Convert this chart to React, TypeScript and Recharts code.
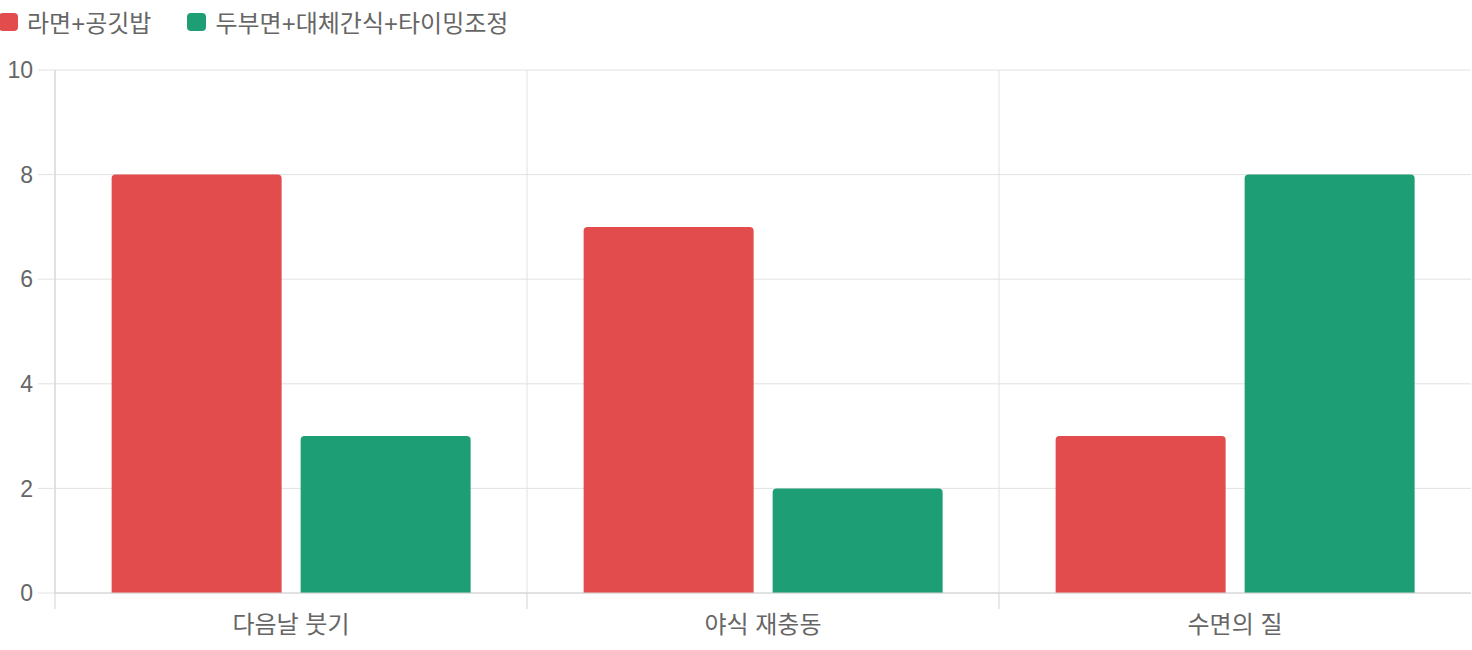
import React from 'react'
import {
  Bar,
  BarChart,
  CartesianGrid,
  Legend,
  XAxis,
  YAxis,
} from 'recharts'

const categories = ['다음날 붓기', '야식 재충동', '수면의 질']
const ramenRice = [8, 7, 3]
const tofuSnack = [3, 2, 8]
const yTicks = [0, 2, 4, 6, 8, 10]

const seriesNames = ['라면+공깃밥', '두부면+대체간식+타이밍조정']
const RED = '#e34c4c'
const GREEN = '#1e9e75'

const data = categories.map((name, i) => ({
  name,
  a: ramenRice[i],
  b: tofuSnack[i],
}))

const font = '"Liberation Sans", Arial, "Noto Sans CJK KR", sans-serif'
const textColor = '#666'
const gridColor = '#e2e2e2'
const axisColor = '#d2d2d2'
const X_TICK = 16
const X_MARGIN = 7

// vertical grid at the left edge of every category band
const bandEdges = ({ offset }: any) =>
  categories.map((_, i) => offset.left + (offset.width * i) / categories.length)

// category label + tick mark on the band boundary
const CatTick = (props: any) => {
  const { x, y, payload } = props
  const half = payload.offset || 0
  const top = y - X_MARGIN - X_TICK
  return (
    <g>
      <line x1={x - half} x2={x - half} y1={top} y2={top + X_TICK} stroke={axisColor} />
      <text
        x={x}
        y={y}
        dy="0.71em"
        textAnchor="middle"
        fill={textColor}
        fontSize={24}
        fontFamily={font}
      >
        {payload.value}
      </text>
    </g>
  )
}

const LegendContent = () => (
  <div style={{ display: 'flex', alignItems: 'center', fontFamily: font, fontSize: 24, color: textColor }}>
    {[RED, GREEN].map((c, i) => (
      <div key={i} style={{ display: 'flex', alignItems: 'center', marginRight: 36 }}>
        <span
          style={{
            display: 'inline-block',
            width: 19,
            height: 18,
            borderRadius: 4,
            background: c,
            marginRight: 9,
          }}
        />
        <span>{seriesNames[i]}</span>
      </div>
    ))}
  </div>
)

const App = () => (
  <div style={{ position: 'absolute', left: 0, top: 0, width: 1472, height: 650 }}>
    <BarChart
      width={1472}
      height={650}
      data={data}
      margin={{ top: 40, right: 1, left: 0, bottom: 0 }}
      barCategoryGap="12%"
      barGap={19}
    >
      <Legend
        verticalAlign="top"
        align="left"
        content={<LegendContent />}
        wrapperStyle={{ top: 4, left: -1, height: 30 }}
      />
      <CartesianGrid stroke={gridColor} verticalCoordinatesGenerator={bandEdges} />
      <XAxis
        dataKey="name"
        axisLine={{ stroke: axisColor }}
        tickLine={false}
        tickSize={X_TICK}
        tickMargin={X_MARGIN}
        height={57}
        interval={0}
        tick={<CatTick />}
      />
      <YAxis
        domain={[0, 10]}
        ticks={yTicks}
        width={55}
        tickSize={17}
        tickMargin={5}
        axisLine={{ stroke: axisColor }}
        tickLine={{ stroke: gridColor }}
        tick={{ fill: textColor, fontSize: 23, fontFamily: font }}
      />
      <Bar
        dataKey="a"
        name={seriesNames[0]}
        fill={RED}
        radius={[4, 4, 0, 0]}
        isAnimationActive={false}
      />
      <Bar
        dataKey="b"
        name={seriesNames[1]}
        fill={GREEN}
        radius={[4, 4, 0, 0]}
        isAnimationActive={false}
      />
    </BarChart>
  </div>
)

export default App
